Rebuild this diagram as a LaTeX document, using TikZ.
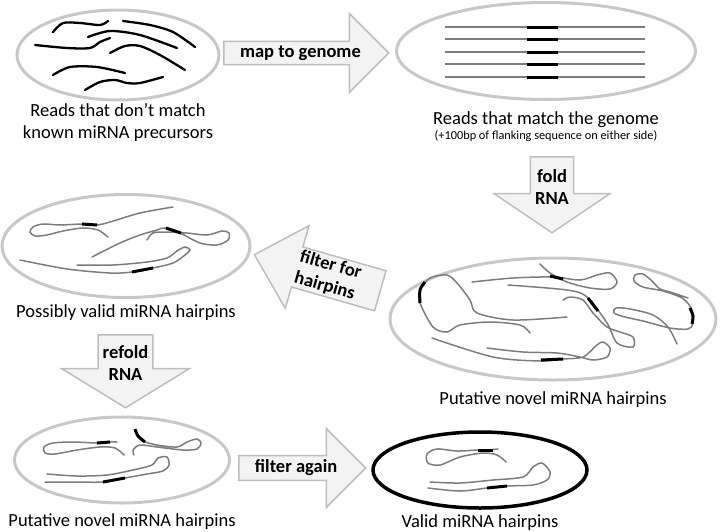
\documentclass[tikz,border=0pt]{standalone}
\usepackage{fontspec}
\setmainfont{Carlito}
\usetikzlibrary{shapes.geometric,shapes.arrows,positioning}
\definecolor{poolgray}{RGB}{200,200,200}
\definecolor{strandgray}{RGB}{125,125,125}
\definecolor{arrowfill}{RGB}{243,243,243}
\definecolor{arrowline}{RGB}{190,190,190}

\begin{document}
\begin{tikzpicture}[x=1pt,y=-1pt]
		\tikzstyle{pool}=[ellipse,draw=poolgray,line width=3pt,inner sep=0pt]
		\tikzstyle{goodpool}=[ellipse,draw=black,line width=3.5pt,inner sep=0pt]
		\tikzstyle{caption}=[align=center,inner sep=0pt,font=\fontsize{18.5}{22}\selectfont]
		\tikzstyle{blockarrow}=[single arrow,single arrow head indent=0pt,draw=arrowline,fill=arrowfill,line width=1.5pt,inner sep=0pt,align=center,font=\bfseries\fontsize{18.5}{22}\selectfont]
		\tikzstyle{read}=[line width=2.3pt,line cap=round]
		\tikzstyle{strand}=[strandgray,line width=1.5pt,line cap=round]
		\tikzstyle{mature}=[line width=3pt]

		\useasboundingbox (0,0) rectangle (720,531);

		% pools of reads
		\node[pool,minimum width=202,minimum height=90] (reads) at (118,55) {};
		\node[pool,minimum width=299,minimum height=97] (genome) at (546,51) {};
		\node[pool,minimum width=326,minimum height=122] (putative) at (553,319) {};
		\node[pool,minimum width=248,minimum height=103] (possible) at (126,246) {};
		\node[pool,minimum width=215,minimum height=86] (refolded) at (122,460) {};
		\node[goodpool,minimum width=214,minimum height=76] (valid) at (480,470) {};

		\node[caption,below=2pt of reads] (readscap) {Reads that don’t match\\known miRNA precursors};
		\node[caption,below=10pt of genome] (genomecap) {Reads that match the genome};
		\node[inner sep=0pt,font=\fontsize{12.3}{14}\selectfont,below=3pt of genomecap] (flanknote) {(+100bp of flanking sequence on either side)};
		\node[caption,below=10pt of putative] (putativecap) {Putative novel miRNA hairpins};
		\node[caption,below=5pt of possible] (possiblecap) {Possibly valid miRNA hairpins};
		\node[caption,below=9pt of refolded] (refoldedcap) {Putative novel miRNA hairpins};
		\node[caption,below=5pt of valid] (validcap) {Valid miRNA hairpins};

		% steps
		\node[blockarrow,anchor=tail,minimum height=165,minimum width=79,single arrow head extend=19.5] (map) at (223,53) {map to genome};
		\node[blockarrow,anchor=tail,shape border rotate=270,minimum height=76,minimum width=116,single arrow head extend=29.5,single arrow tip angle=112] (fold) at (552,156) {fold\\RNA};
		\node[blockarrow,anchor=tail,shape border rotate=180,rotate=-16,minimum height=131,minimum width=86,single arrow head extend=21,single arrow tip angle=88] (filter) at (381,291) {filter for\\hairpins};
		\node[blockarrow,anchor=tail,shape border rotate=270,minimum height=73,minimum width=128,single arrow head extend=31.5,single arrow tip angle=117] (refold) at (125.5,334) {refold\\RNA};
		\node[blockarrow,anchor=tail,minimum height=127,minimum width=79,single arrow head extend=19.5] (again) at (238,468) {filter again};

		% unmatched reads
		\draw[read] plot[smooth] coordinates {(53,32) (63,23) (80,23) (100,25) (108,21)};
		\draw[read] plot[smooth] coordinates {(123,21) (150,25) (173,32) (195,47)};
		\draw[read] plot[smooth] coordinates {(88,37) (110,31) (140,35) (177,48)};
		\draw[read] plot[smooth] coordinates {(35,45) (67,48) (90,48) (100,42) (110,38)};
		\draw[read] plot[smooth] coordinates {(110,53) (125,46) (140,46) (160,55) (185,70)};
		\draw[read] plot[smooth] coordinates {(53,75) (70,67) (97,67) (125,73)};
		\draw[read] plot[smooth] coordinates {(85,90) (100,82) (115,80) (127,83) (140,83) (163,77)};

		% matched reads
		\foreach \y in {27,39,52,64,77} {
			\draw[strand,line cap=butt,line width=1.3pt] (445,\y) -- (645,\y);
			\draw[mature] (527,\y) -- (558,\y);
		}

		% folded hairpins
		\draw[strand] plot[smooth] coordinates {(567,317) (513,320) (477,313) (470,300) (457,283) (447,275) (430,278) (420,290) (420,303) (433,327) (447,332) (460,325) (490,322) (520,325) (530,333)};
		\draw[mature] plot[smooth] coordinates {(425,282) (420,290) (420,303)};
		\draw[strand] plot[smooth] coordinates {(472,282) (513,278) (553,277) (580,280) (597,275) (610,273) (617,282) (610,289) (590,288) (567,282) (550,273) (540,264)};
		\draw[mature] (550,276) -- (563,279);
		\draw[strand] plot[smooth] coordinates {(508,285) (567,290) (587,297) (607,323) (617,343) (633,347) (633,337) (620,332) (607,327) (593,313) (583,300) (570,297) (563,300)};
		\draw[mature] (588,298) -- (598,311);
		\draw[strand] plot[smooth] coordinates {(688,298) (670,292) (660,289) (652,281) (643,274) (635,275) (634,281) (643,287) (663,291) (682,298) (691,308) (693,323) (688,329) (670,328) (643,321) (625,317) (614,313) (616,308) (630,309) (653,315) (668,327) (677,344)};
		\draw[mature] plot[smooth] coordinates {(690,308) (693,316) (692,324)};
		\draw[strand] plot[smooth] coordinates {(432,338) (493,357) (540,361) (563,359) (583,357) (597,345) (603,342) (610,348) (607,357) (593,360) (580,357) (557,353) (523,352) (487,348)};
		\draw[mature] (541,360) -- (563,359);

		% possibly valid hairpins
		\draw[strand] plot[smooth] coordinates {(173,207) (140,213) (110,222) (97,225) (82,224) (60,225) (43,224) (33,227) (30,232) (35,236) (47,235) (63,231) (83,228) (98,230) (108,237)};
		\draw[mature] (82,224) -- (97,225);
		\draw[strand] plot[smooth] coordinates {(92,257) (120,243) (140,235) (157,230) (165,228) (182,234) (200,243) (217,245) (228,240) (229,233) (222,231) (207,235) (187,233) (167,232) (153,233) (147,240)};
		\draw[mature] (166,228) -- (181,233);
		\draw[strand] plot[smooth] coordinates {(20,260) (67,269) (110,273) (132,272) (153,268) (173,263) (185,255) (190,250) (185,247) (177,251) (167,258) (147,262) (113,265) (77,265)};
		\draw[mature] (132,272) -- (153,268);

		% refolded hairpins
		\draw[strand] plot[smooth] coordinates {(117,442) (110,442) (97,443) (73,442) (53,443) (44,447) (45,453) (55,454) (77,450) (100,447) (115,448) (124,455)};
		\draw[mature] (97,443) -- (110,442);
		\draw[strand] plot[smooth] coordinates {(145,442) (157,445) (177,447) (187,442) (197,439) (201,443) (197,449) (183,450) (157,447) (140,445) (133,450) (134,455)};
		\draw[mature] plot[smooth] coordinates {(135,429) (138,436) (145,442)};
		\draw[strand] plot[smooth] coordinates {(47,474) (77,476) (107,475) (133,470) (152,465) (158,458) (167,457) (169,465) (163,471) (147,474) (125,478) (103,482) (77,482) (45,482)};
		\draw[mature] (125,478) -- (103,482);

		% valid hairpins
		\draw[strand] plot[smooth] coordinates {(498,449) (487,450) (478,450) (457,451) (437,449) (427,454) (428,463) (440,465) (460,457) (483,453) (497,455) (506,462)};
		\draw[mature] (478,450) -- (493,450);
		\draw[strand] plot[smooth] coordinates {(430,482) (460,483) (493,480) (523,477) (533,467) (542,463) (550,472) (547,480) (533,485) (507,486) (487,488) (460,491) (428,488)};
		\draw[mature] (487,488) -- (507,486);
\end{tikzpicture}
\end{document}
